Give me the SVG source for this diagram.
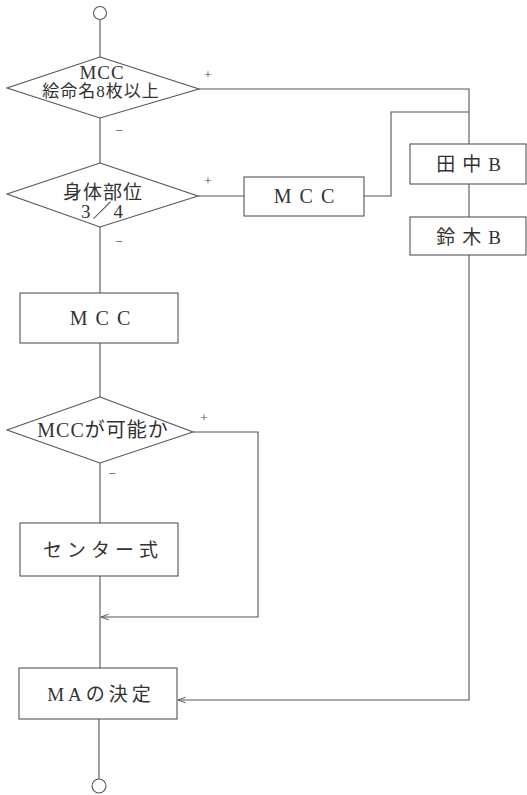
<svg xmlns="http://www.w3.org/2000/svg" width="527" height="795" viewBox="0 0 527 795">
<style>
.s{fill:#fff;stroke:#555;stroke-width:1.1}
.c{fill:none;stroke:#555;stroke-width:1.1}
.t{font-family:"Liberation Serif","Noto Sans CJK JP",serif;font-size:19px;fill:#333;text-anchor:middle}
.l{font-family:"Liberation Serif",serif;font-size:13px;fill:#444;text-anchor:middle}
</style>
<defs>
<marker id="a" viewBox="0 0 8 8" refX="8" refY="4" markerWidth="7" markerHeight="7" orient="auto"><path d="M0,1 L8,4 L0,7" fill="none" stroke="#555" stroke-width="1"/></marker>
</defs>
<g id="connectors">
<path class="c" d="M100,20 V57"/>
<path class="c" d="M100,118 V163"/>
<path class="c" d="M199,89 H469 V144"/>
<path class="c" d="M198,196 H244"/>
<path class="c" d="M364,196 H391 V112 H469"/>
<path class="c" d="M469,184 V217"/>
<path class="c" d="M469,255 V700 H178" marker-end="url(#a)"/>
<path class="c" d="M100,227 V293"/>
<path class="c" d="M100,343 V397"/>
<path class="c" d="M100,463 V523"/>
<path class="c" d="M193,432 H258 V617 H101" marker-end="url(#a)"/>
<path class="c" d="M100,576 V668"/>
<path class="c" d="M99,719 V779"/>
<text class="l" x="208" y="79">+</text>
<text class="l" x="119" y="135">−</text>
<text class="l" x="208" y="185">+</text>
<text class="l" x="119" y="246">−</text>
<text class="l" x="204" y="422">+</text>
<text class="l" x="112" y="478">−</text>
</g>
<g id="start"><circle class="s" cx="100" cy="13" r="6.5"/></g>
<g id="d1">
<polygon class="s" points="100,57 199,89 100,118 7,88"/>
<text class="t" x="102" y="79" letter-spacing="1">MCC</text>
<text class="t" x="101" y="97" style="font-size:17px" letter-spacing="1">絵命名8枚以上</text>
</g>
<g id="d2">
<polygon class="s" points="100,163 198,196 100,227 7,194"/>
<text class="t" x="103" y="199" letter-spacing="1">身体部位</text>
<text class="t" x="103" y="218" letter-spacing="2">3／4</text>
</g>
<g id="mcc1">
<rect class="s" x="244" y="177" width="120" height="39"/>
<text class="t" x="308" y="203" style="font-size:20px" letter-spacing="8">MCC</text>
</g>
<g id="tanaka">
<rect class="s" x="410" y="144" width="116" height="40"/>
<text class="t" x="472" y="171" letter-spacing="7">田中B</text>
</g>
<g id="suzuki">
<rect class="s" x="410" y="217" width="116" height="38"/>
<text class="t" x="472" y="244" letter-spacing="7">鈴木B</text>
</g>
<g id="mcc2">
<rect class="s" x="20" y="293" width="158" height="50"/>
<text class="t" x="104" y="325" style="font-size:20px" letter-spacing="8">MCC</text>
</g>
<g id="d3">
<polygon class="s" points="100,397 193,432 100,463 7,430"/>
<text class="t" x="103" y="437" style="font-size:20px" letter-spacing="1">MCCが可能か</text>
</g>
<g id="center">
<rect class="s" x="20" y="523" width="158" height="53"/>
<text class="t" x="103" y="557" letter-spacing="5">センター式</text>
</g>
<g id="ma">
<rect class="s" x="19" y="668" width="158" height="51"/>
<text class="t" x="101" y="701" letter-spacing="4">MAの決定</text>
</g>
<g id="end"><circle class="s" cx="99" cy="786" r="7"/></g>
</svg>
